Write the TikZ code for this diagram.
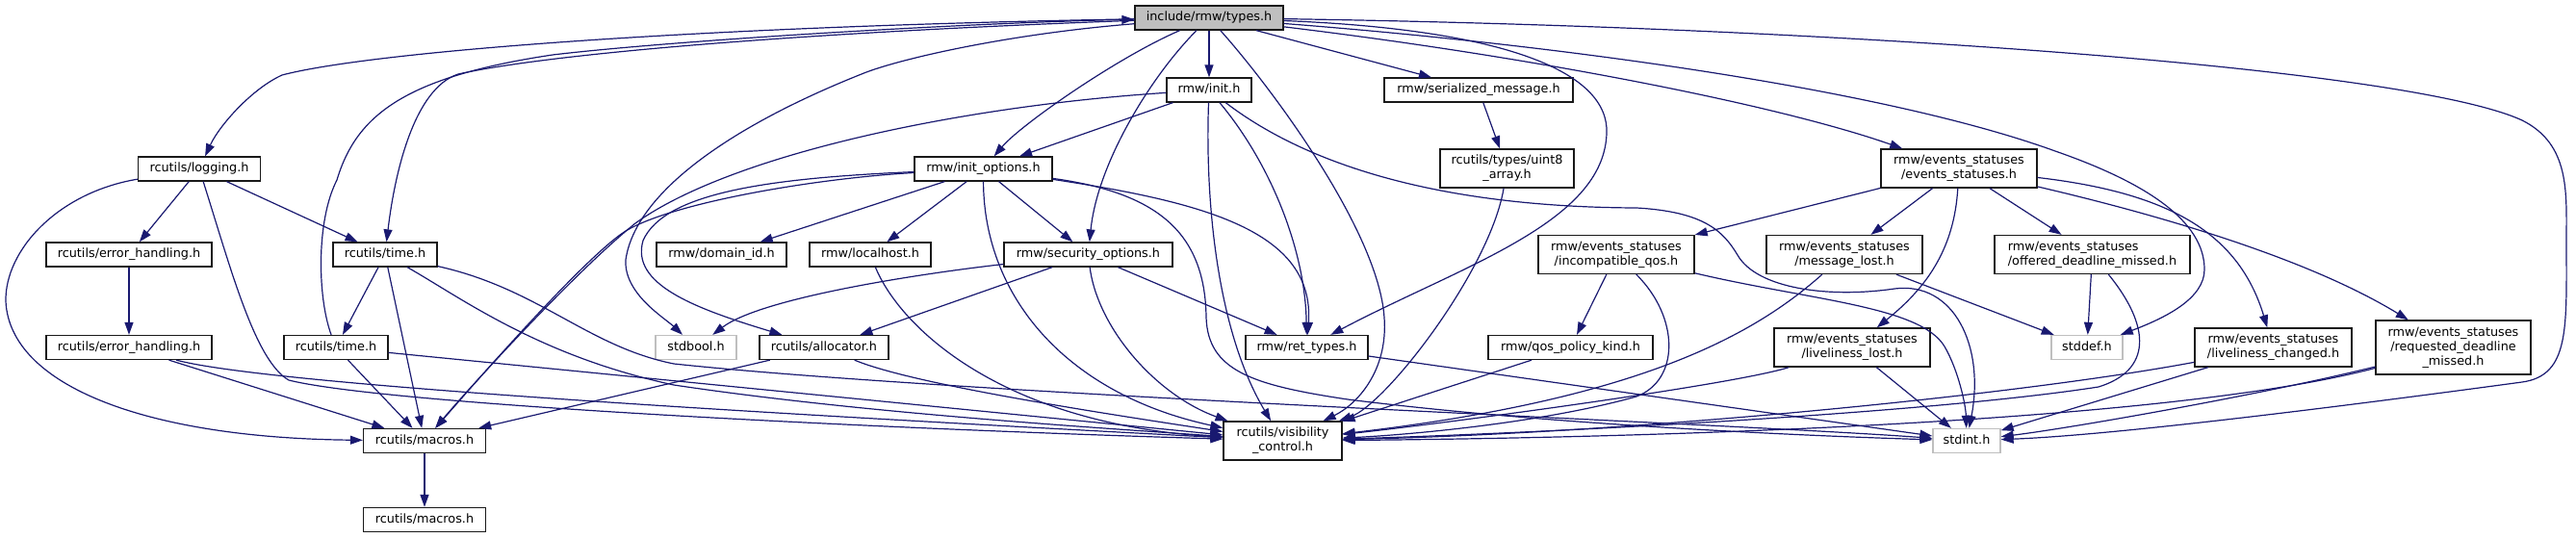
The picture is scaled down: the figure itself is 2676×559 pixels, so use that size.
\documentclass[tikz,border=0pt]{standalone}
\usepackage{fontspec}
\setmainfont{DejaVu Sans}
\usetikzlibrary{arrows.meta}
\definecolor{edgec}{HTML}{191970}
\definecolor{tfill}{HTML}{BFBFBF}
\definecolor{gline}{HTML}{BFBFBF}
\newcommand{\lblfont}{\fontsize{12.8}{15}\selectfont}
\tikzset{
  nbox/.style={draw=black!90, line width=1.3pt, fill=white, inner sep=0pt,
    minimum height=25pt, text height=9.6pt, text depth=3pt, font=\lblfont},
  gbox/.style={nbox, draw=gline},
  mbox/.style={draw=black!90, line width=1.3pt, fill=white, inner sep=0pt,
    minimum height=40pt, align=center, font=\lblfont},
  dep/.style={draw=edgec, line width=1.2pt, -{Triangle[length=13pt,width=9pt]}},
}
\begin{document}
\begin{tikzpicture}[x=1pt,y=-1pt]
\useasboundingbox (0,0) rectangle (2676,559);
% nodes
\node[nbox,fill=tfill,minimum width=154pt] (types) at (1256,18.5) {include/rmw/types.h};
\node[nbox,minimum width=127pt] (logging) at (207,175.5) {rcutils/logging.h};
\node[nbox,minimum width=172pt] (err1) at (134,264.5) {rcutils/error\_handling.h};
\node[nbox,minimum width=172pt] (err2) at (134,361) {rcutils/error\_handling.h};
\node[nbox,minimum width=108pt] (time1) at (400,264.5) {rcutils/time.h};
\node[nbox,minimum width=108pt] (time2) at (349,361) {rcutils/time.h};
\node[nbox,minimum width=127pt] (mac1) at (441,458) {rcutils/macros.h};
\node[nbox,minimum width=127pt] (mac2) at (441,540) {rcutils/macros.h};
\node[nbox,minimum width=135pt] (domain) at (749.5,264.5) {rmw/domain\_id.h};
\node[nbox,minimum width=126pt] (localhost) at (904,264.5) {rmw/localhost.h};
\node[gbox,minimum width=84pt] (stdbool) at (723,361) {stdbool.h};
\node[nbox,minimum width=134pt] (alloc) at (856,361) {rcutils/allocator.h};
\node[nbox,minimum width=88pt] (init) at (1256,93.5) {rmw/init.h};
\node[nbox,minimum width=143pt] (initopt) at (1021.5,175.5) {rmw/init\_options.h};
\node[nbox,minimum width=175pt] (security) at (1130.5,264.5) {rmw/security\_options.h};
\node[nbox,minimum width=196pt] (serial) at (1536,93.5) {rmw/serialized\_message.h};
\node[mbox,minimum width=139pt] (uint8) at (1565.5,175) {rcutils/types/uint8\\\_array.h};
\node[nbox,minimum width=127pt] (ret) at (1357.5,361) {rmw/ret\_types.h};
\node[mbox,minimum width=123pt] (vis) at (1332.5,458) {rcutils/visibility\\\_control.h};
\node[mbox,minimum width=162pt] (events) at (2035,175) {rmw/events\_statuses\\/events\_statuses.h};
\node[mbox,minimum width=162pt] (incomp) at (1679,264.5) {rmw/events\_statuses\\/incompatible\_qos.h};
\node[nbox,minimum width=171pt] (qos) at (1631.5,361) {rmw/qos\_policy\_kind.h};
\node[mbox,minimum width=162pt] (msglost) at (1916,264.5) {rmw/events\_statuses\\/message\_lost.h};
\node[mbox,align=left,minimum width=203pt] (offered) at (2173.5,264.5) {rmw/events\_statuses\\/offered\_deadline\_missed.h};
\node[mbox,minimum width=162pt] (livlost) at (1924,361) {rmw/events\_statuses\\/liveliness\_lost.h};
\node[gbox,minimum width=74pt] (stddef) at (2168,361) {stddef.h};
\node[mbox,minimum width=163pt] (livchg) at (2361.5,361) {rmw/events\_statuses\\/liveliness\_changed.h};
\node[mbox,minimum width=161pt,minimum height=56pt] (reqd) at (2548.5,361) {rmw/events\_statuses\\/requested\_deadline\\\_missed.h};
\node[gbox,minimum width=70pt] (stdint) at (2043,458) {stdint.h};
% edges from types
\draw[dep] (types) .. controls (700,28) and (380,55) .. (293,78) .. controls (262,92) and (228,130) .. (logging);
\draw[dep] (types) .. controls (800,35) and (560,58) .. (476,77) .. controls (430,92) and (410,180) .. (time1);
\draw[dep] (time2) .. controls (330,310) and (328,230) .. (350,187) .. controls (370,120) and (420,80) .. (574,57) .. controls (700,42) and (1000,24) .. (types);
\draw[dep] (types) -- (init);
\draw[dep] (types) .. controls (1160,60) and (1060,130) .. (initopt);
\draw[dep] (types) .. controls (1195,80) and (1140,170) .. (security);
\draw[dep] (types) .. controls (1320,90) and (1432,240) .. (1438,330) .. controls (1442,385) and (1410,420) .. (vis);
\draw[dep] (types) -- (serial);
\draw[dep] (types) .. controls (1600,60) and (1850,110) .. (events);
\draw[dep] (types) .. controls (1550,30) and (1665,70) .. (1669,133) .. controls (1672,230) and (1520,275) .. (ret);
\draw[dep] (types) .. controls (1600,45) and (1950,90) .. (2135,157) .. controls (2230,190) and (2290,230) .. (2290,280) .. controls (2290,310) and (2250,330) .. (stddef);
\draw[dep] (types) .. controls (1900,28) and (2500,70) .. (2620,125) .. controls (2670,150) and (2666,200) .. (2666,250) .. controls (2666,340) and (2670,390) .. (2620,397) .. controls (2450,420) and (2200,452) .. (stdint);
\draw[dep] (types) .. controls (1050,35) and (940,60) .. (900,75) .. controls (760,130) and (660,200) .. (650,270) .. controls (648,305) and (690,330) .. (stdbool);
% init
\draw[dep] (init) -- (initopt);
\draw[dep] (init) .. controls (1000,110) and (760,160) .. (660,232) .. controls (600,280) and (490,400) .. (mac1);
\draw[dep] (init) .. controls (1320,170) and (1356,260) .. (ret);
\draw[dep] (init) .. controls (1252,200) and (1262,340) .. (vis);
\draw[dep] (init) .. controls (1330,150) and (1450,215) .. (1700,216) .. controls (1770,220) and (1790,240) .. (1805,265) .. controls (1825,300) and (1900,310) .. (1968,300) .. controls (2030,292) and (2062,360) .. (stdint);
% init_options
\draw[dep] (initopt) .. controls (850,185) and (700,210) .. (650,240) .. controls (610,265) and (500,390) .. (mac1);
\draw[dep] (initopt) .. controls (800,185) and (690,200) .. (668,250) .. controls (655,295) and (720,320) .. (alloc);
\draw[dep] (initopt) -- (domain);
\draw[dep] (initopt) -- (localhost);
\draw[dep] (initopt) -- (security);
\draw[dep] (initopt) .. controls (1250,210) and (1366,240) .. (ret);
\draw[dep] (initopt) .. controls (1022,310) and (1110,410) .. (vis);
\draw[dep] (initopt) .. controls (1200,200) and (1252,240) .. (1253,330) .. controls (1255,385) and (1300,400) .. (1400,415) .. controls (1600,440) and (1850,452) .. (stdint);
% security
\draw[dep] (security) .. controls (950,285) and (790,310) .. (stdbool);
\draw[dep] (security) -- (alloc);
\draw[dep] (security) -- (ret);
\draw[dep] (security) .. controls (1140,340) and (1200,410) .. (vis);
% localhost, allocator, macros
\draw[dep] (localhost) .. controls (935,340) and (1040,440) .. (vis);
\draw[dep] (alloc) -- (mac1);
\draw[dep] (alloc) .. controls (950,400) and (1150,430) .. (vis);
\draw[dep] (mac1) -- (mac2);
% serialized / uint8 / ret
\draw[dep] (serial) -- (uint8);
\draw[dep] (uint8) .. controls (1548,280) and (1440,420) .. (vis);
\draw[dep] (ret) -- (stdint);
% logging
\draw[dep] (logging) -- (err1);
\draw[dep] (logging) -- (time1);
\draw[dep] (logging) .. controls (60,200) and (5,260) .. (6,313) .. controls (10,400) and (150,455) .. (mac1);
\draw[dep] (logging) .. controls (240,280) and (265,375) .. (300,395) .. controls (400,420) and (900,445) .. (vis);
% error handling
\draw[dep] (err1) -- (err2);
\draw[dep] (err2) -- (mac1);
\draw[dep] (err2) .. controls (280,400) and (800,430) .. (vis);
% time
\draw[dep] (time1) -- (time2);
\draw[dep] (time1) -- (mac1);
\draw[dep] (time1) .. controls (480,310) and (560,370) .. (700,400) .. controls (900,430) and (1150,445) .. (vis);
\draw[dep] (time1) .. controls (560,300) and (610,360) .. (700,378) .. controls (1000,410) and (1800,440) .. (stdint);
\draw[dep] (time2) -- (mac1);
\draw[dep] (time2) -- (vis);
% events statuses
\draw[dep] (events) -- (incomp);
\draw[dep] (events) -- (msglost);
\draw[dep] (events) .. controls (2030,260) and (2000,300) .. (livlost);
\draw[dep] (events) -- (offered);
\draw[dep] (events) .. controls (2250,200) and (2325,240) .. (livchg);
\draw[dep] (events) .. controls (2250,225) and (2400,270) .. (reqd);
\draw[dep] (incomp) -- (qos);
\draw[dep] (incomp) .. controls (1745,330) and (1745,395) .. (1700,412) .. controls (1600,440) and (1460,452) .. (vis);
\draw[dep] (incomp) .. controls (1880,312) and (1995,318) .. (2020,360) .. controls (2034,384) and (2042,420) .. (stdint);
\draw[dep] (qos) -- (vis);
\draw[dep] (msglost) .. controls (1820,350) and (1700,415) .. (vis);
\draw[dep] (msglost) -- (stddef);
\draw[dep] (livlost) .. controls (1800,400) and (1500,440) .. (vis);
\draw[dep] (livlost) -- (stdint);
\draw[dep] (offered) -- (stddef);
\draw[dep] (offered) .. controls (2235,340) and (2235,385) .. (2180,402) .. controls (2000,430) and (1600,450) .. (vis);
\draw[dep] (livchg) .. controls (2100,410) and (1700,450) .. (vis);
\draw[dep] (livchg) -- (stdint);
\draw[dep] (reqd) .. controls (2250,440) and (1700,455) .. (vis);
\draw[dep] (reqd) .. controls (2350,410) and (2150,445) .. (stdint);
\end{tikzpicture}
\end{document}
